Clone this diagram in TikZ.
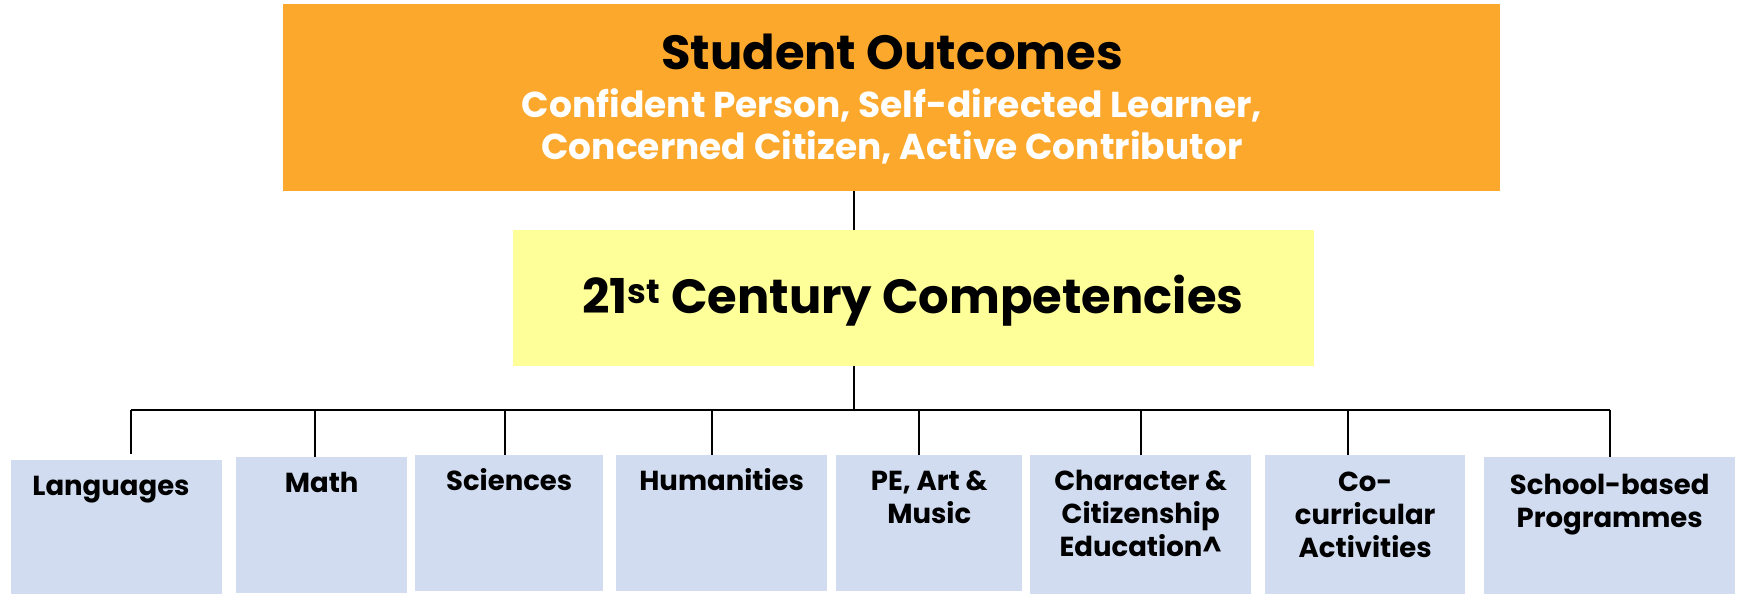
\documentclass[tikz,border=0pt]{standalone}
\usepackage{fontspec}
\setmainfont{Poppins}[BoldFont={Poppins Bold}]
\definecolor{orangebox}{RGB}{251,168,44}
\definecolor{yellowbox}{RGB}{255,255,153}
\definecolor{bluebox}{RGB}{209,220,240}
\begin{document}
\begin{tikzpicture}[x=1pt,y=-1pt,
  link/.style={draw=black,line width=1.6pt},
  sub/.style={fill=bluebox,draw=none,inner sep=0pt,anchor=north west},
  subtext/.style={anchor=base,align=center,inner sep=0pt,font=\fontsize{27.5}{33}\selectfont\bfseries},
]
\useasboundingbox (0,0) rectangle (1737,594);
% top boxes
\node[fill=orangebox,inner sep=0pt,minimum width=1217pt,minimum height=187pt,anchor=north west] (so) at (283,4) {};
\node[anchor=base,inner sep=0pt,font=\fontsize{48}{56}\selectfont\bfseries] (sot) at (892,70) {Student Outcomes};
\node[anchor=base,inner sep=0pt,align=center,text=white,font=\fontsize{36}{42}\selectfont\bfseries] (sos) at (892,159) {Confident Person, Self-directed Learner,\\Concerned Citizen, Active Contributor};
\node[fill=yellowbox,inner sep=0pt,minimum width=801pt,minimum height=136pt,anchor=north west] (cc) at (513,230) {};
\node[anchor=base,inner sep=0pt,font=\fontsize{48}{56}\selectfont\bfseries] (cct) at (913,313) {21\textsuperscript{st} Century Competencies};
% bottom boxes
\node[sub,minimum width=211pt,minimum height=134pt] (lang) at (11,460) {};
\node[sub,minimum width=171pt,minimum height=136pt] (math) at (236,457) {};
\node[sub,minimum width=188pt,minimum height=136pt] (sci) at (415,455) {};
\node[sub,minimum width=211pt,minimum height=136pt] (hum) at (616,455) {};
\node[sub,minimum width=186pt,minimum height=136pt] (pe) at (836,455) {};
\node[sub,minimum width=221pt,minimum height=139pt] (char) at (1030,455) {};
\node[sub,minimum width=200pt,minimum height=139pt] (cca) at (1265,455) {};
\node[sub,minimum width=251pt,minimum height=137pt] (sbp) at (1484,457) {};
\node[subtext] (langt) at (111,495) {Languages};
\node[subtext] (matht) at (math.north |- 0,492) {Math};
\node[subtext] (scit) at (sci.north |- 0,490) {Sciences};
\node[subtext] (humt) at (hum.north |- 0,490) {Humanities};
\node[subtext] (pet) at (pe.north |- 0,523) {PE, Art \&\\Music};
\node[subtext] (chart) at (char.north |- 0,556) {Character \&\\Citizenship\\Education\textasciicircum};
\node[subtext] (ccat) at (cca.north |- 0,557) {Co-\\curricular\\Activities};
\node[subtext] (sbpt) at (sbp.north |- 0,527) {School-based\\Programmes};
% connectors
\coordinate (jc) at (854,410);
\coordinate (j1) at (131,410);
\coordinate (j2) at (315,410);
\coordinate (j3) at (505,410);
\coordinate (j4) at (712,410);
\coordinate (j5) at (919,410);
\coordinate (j6) at (1141,410);
\coordinate (j7) at (1348,410);
\coordinate (j8) at (1610,410);
\draw[link] (so.south -| jc) -- (cc.north -| jc);
\draw[link] (cc.south -| jc) -- (jc);
\draw[link] (j1) -- (j8);
\draw[link] (j1) -- ++(0,44);
\draw[link] (j2) -- (j2 |- math.north);
\draw[link] (j3) -- (j3 |- sci.north);
\draw[link] (j4) -- (j4 |- hum.north);
\draw[link] (j5) -- (j5 |- pe.north);
\draw[link] (j6) -- (j6 |- char.north);
\draw[link] (j7) -- (j7 |- cca.north);
\draw[link] (j8) -- (j8 |- sbp.north);
\end{tikzpicture}
\end{document}
